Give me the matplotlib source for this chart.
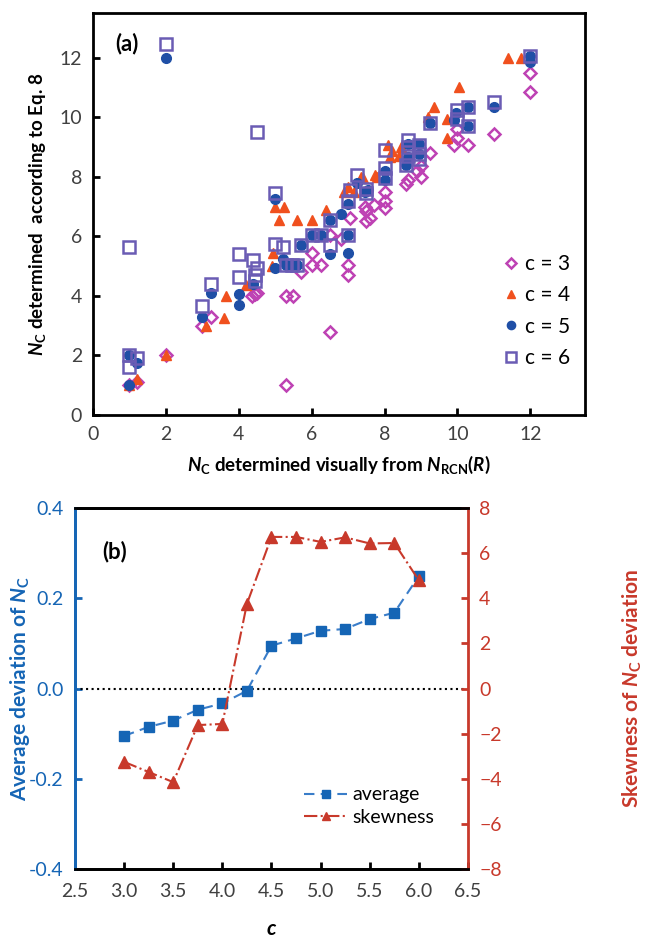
import matplotlib
matplotlib.use('Agg')
import matplotlib.pyplot as plt

plt.rcParams['font.family'] = ['Lato', 'DejaVu Sans']
plt.rcParams['mathtext.fontset'] = 'custom'
plt.rcParams['mathtext.rm'] = 'Lato:bold'
plt.rcParams['mathtext.it'] = 'Lato:bold:italic'
plt.rcParams['mathtext.bf'] = 'Lato:bold'

c3_x = [1.0, 1.2, 2.0, 3.0, 3.25, 4.35, 4.45, 4.5, 5.3, 5.5, 5.3, 6.5, 5.7, 6.0, 6.0, 6.25,
        6.5, 6.8, 7.0, 7.0, 7.05, 7.45, 7.5, 7.5, 7.6, 7.7, 8.0, 8.0, 8.0, 8.6, 8.65, 8.9,
        9.0, 9.0, 9.25, 9.9, 10.0, 10.0, 10.3, 11.0, 12.0, 12.0]
c3_y = [1.0, 1.1, 2.0, 3.0, 3.3, 4.0, 4.05, 4.1, 4.0, 4.0, 1.0, 2.8, 4.8, 5.05, 5.45, 5.05,
        6.05, 5.9, 5.05, 4.7, 6.6, 7.0, 6.85, 6.5, 6.6, 7.05, 7.5, 7.2, 6.95, 7.75, 7.9, 8.2,
        8.0, 8.35, 8.8, 9.05, 9.3, 9.6, 9.05, 9.45, 10.85, 11.5]

c4_x = [1.0, 1.2, 2.0, 3.1, 3.6, 3.65, 4.2, 4.9, 4.95, 5.0, 5.25, 5.1, 5.6, 6.0, 6.4, 6.9,
        7.15, 7.35, 7.75, 7.4, 7.0, 7.8, 8.1, 8.2, 8.15, 8.45, 8.4, 9.2, 9.35, 9.7, 9.7,
        10.05, 11.4, 11.75]
c4_y = [1.0, 1.2, 2.0, 3.0, 3.25, 4.0, 4.35, 5.0, 5.45, 7.0, 7.0, 6.55, 6.55, 6.55, 6.9, 7.5,
        7.5, 8.0, 8.05, 7.95, 7.65, 8.0, 9.05, 8.85, 8.65, 9.0, 8.7, 10.0, 10.35, 9.95, 9.3,
        11.0, 12.0, 12.0]

c5_x = [1.0, 1.0, 1.2, 2.0, 3.0, 3.25, 4.0, 4.0, 4.4, 5.0, 5.0, 5.2, 5.3, 5.45, 5.6, 5.7,
        6.0, 6.25, 6.5, 6.5, 6.8, 7.0, 7.0, 7.0, 7.25, 7.45, 7.55, 8.0, 8.0, 8.6, 8.65,
        8.65, 8.95, 8.95, 9.25, 9.9, 9.95, 10.3, 10.3, 11.0, 12.0, 12.0]
c5_y = [1.0, 2.0, 1.75, 12.0, 3.3, 4.1, 4.05, 3.7, 4.4, 4.95, 7.25, 5.25, 5.05, 5.05, 5.05, 5.7,
        6.05, 6.05, 5.4, 6.55, 6.75, 6.05, 5.45, 7.1, 7.8, 7.5, 7.55, 8.2, 7.9, 8.4, 8.65,
        9.1, 9.1, 8.75, 9.8, 9.9, 10.15, 10.35, 9.7, 10.35, 12.05, 11.85]

c6_x = [1.0, 1.0, 1.2, 1.0, 2.0, 3.0, 3.25, 4.0, 4.0, 4.4, 4.5, 4.45, 4.45, 4.5, 5.0, 5.0,
        5.2, 5.3, 5.45, 5.6, 5.7, 6.0, 6.25, 6.5, 6.5, 7.0, 7.0, 7.05, 7.25, 7.5, 7.5,
        8.0, 8.0, 8.0, 8.6, 8.65, 8.65, 8.65, 8.95, 8.95, 8.95, 9.25, 10.0, 10.0, 10.3,
        10.3, 11.0, 12.0]
c6_y = [2.0, 1.6, 1.9, 5.65, 12.45, 3.65, 4.4, 5.4, 4.65, 5.2, 4.95, 4.7, 4.5, 9.5, 7.45, 5.75,
        5.65, 5.05, 5.05, 5.05, 5.7, 6.05, 6.05, 6.55, 5.7, 6.05, 7.2, 7.55, 8.05, 7.45, 7.6,
        8.9, 8.3, 7.95, 8.4, 8.7, 9.25, 9.0, 9.05, 8.75, 8.6, 9.8, 10.25, 9.95, 10.35,
        9.7, 10.5, 12.05]

# panel (b): average deviation and skewness vs c
c_vals = [3.0, 3.25, 3.5, 3.75, 4.0, 4.25, 4.5, 4.75, 5.0, 5.25, 5.5, 5.75, 6.0]
avg_dev = [-0.105, -0.085, -0.071, -0.047, -0.033, -0.005, 0.095, 0.111, 0.128, 0.132,
           0.154, 0.168, 0.249]
skewness = [-3.25, -3.7, -4.15, -1.62, -1.57, 3.75, 6.72, 6.72, 6.5, 6.7, 6.43, 6.45, 4.8]

magenta = '#BE42B4'
orange = '#F0501E'
navy = '#1F4FA6'
violet = '#6A5CB4'
blue = '#1565B5'
red = '#C8392B'

fig = plt.figure(figsize=(6.56, 9.41), dpi=100)

ax = fig.add_axes([0.1418, 0.559, 0.75, 0.4272])
ax.plot(c3_x, c3_y, 'D', ms=6.5, mfc='none', mec=magenta, mew=1.8, ls='none', label='c = 3')
ax.plot(c4_x, c4_y, '^', ms=7.5, color=orange, mec=orange, ls='none', label='c = 4')
ax.plot(c5_x, c5_y, 'o', ms=7, color=navy, mec=navy, ls='none', label='c = 5')
ax.plot(c6_x, c6_y, 's', ms=8.5, mfc='none', mec=violet, mew=1.8, ls='none', label='c = 6')
ax.set_xlim(0, 13.5)
ax.set_ylim(0, 13.5)
ax.set_xticks(range(0, 13, 2))
ax.set_yticks(range(0, 13, 2))
ax.tick_params(direction='in', length=5, width=2, labelsize=14, labelcolor='#404040', pad=8)
for s in ax.spines.values():
    s.set_linewidth(2)
ax.set_xlabel(r'$N_{\mathrm{C}}$ determined visually from $N_{\mathrm{RCN}}(R)$',
              fontsize=13.5, fontweight='bold', labelpad=8)
ax.set_ylabel(r'$N_{\mathrm{C}}$ determined  according to Eq. 8',
              fontsize=13.5, fontweight='bold', labelpad=8)
ax.text(0.045, 0.95, '(a)', transform=ax.transAxes, fontsize=16, fontweight='bold', va='top')
ax.legend(loc='lower right', bbox_to_anchor=(1.0, 0.08), frameon=False, fontsize=15,
          handletextpad=0.1, labelspacing=0.55, handlelength=1.2, borderaxespad=0.3,
          markerscale=0.85)

ax2 = fig.add_axes([0.1143, 0.0765, 0.599, 0.3836])
ax3 = ax2.twinx()
ax2.axhline(0, color='black', ls=':', lw=1.5)
l1, = ax2.plot(c_vals, avg_dev, '--s', color='#3A7DC9', mfc=blue, mec=blue, ms=7.5, lw=1.5,
               dashes=(5, 3), label='average')
l2, = ax3.plot(c_vals, skewness, '-.^', color=red, mfc=red, mec=red, ms=8, lw=1.5,
               label='skewness')
ax2.set_xlim(2.5, 6.5)
ax2.set_ylim(-0.4, 0.4)
ax3.set_ylim(-8, 8)
ax2.set_xticks([2.5, 3.0, 3.5, 4.0, 4.5, 5.0, 5.5, 6.0, 6.5])
ax2.set_xticklabels(['2.5', '3.0', '3.5', '4.0', '4.5', '5.0', '5.5', '6.0', '6.5'])
ax2.set_yticks([-0.4, -0.2, 0.0, 0.2, 0.4])
ax2.set_yticklabels(['-0.4', '-0.2', '0.0', '0.2', '0.4'])
ax3.set_yticks(range(-8, 9, 2))
ax2.tick_params(axis='x', direction='in', length=5, width=2, labelsize=14,
                labelcolor='#404040', pad=10)
ax2.tick_params(axis='y', direction='in', length=5, width=2, labelsize=14, color=blue,
                labelcolor=blue, pad=8)
ax3.tick_params(axis='y', direction='in', length=5, width=2, labelsize=14, color=red,
                labelcolor=red, pad=8)
for s in ax2.spines.values():
    s.set_linewidth(2)
for s in ax3.spines.values():
    s.set_linewidth(2)
ax3.spines['left'].set_color(blue)
ax3.spines['right'].set_color(red)
ax2.spines['left'].set_color(blue)
ax2.spines['right'].set_visible(False)
ax2.set_xlabel(r'$c$', fontsize=15, labelpad=14)
ax2.set_ylabel(r'Average deviation of $N_{\mathrm{C}}$', fontsize=15, fontweight='bold',
               color=blue)
ax2.yaxis.set_label_coords(-0.11, 0.5)
ax3.set_ylabel(r'Skewness of $N_{\mathrm{C}}$ deviation', fontsize=15, fontweight='bold',
               color=red)
ax3.yaxis.set_label_coords(1.39, 0.5)
ax2.text(0.07, 0.91, '(b)', transform=ax2.transAxes, fontsize=16, fontweight='bold', va='top')
ax2.legend([l1, l2], ['average', 'skewness'], loc='lower right', bbox_to_anchor=(0.96, 0.07),
           frameon=False, fontsize=14, handlelength=2.2, handletextpad=0.3, labelspacing=0.3,
           markerscale=0.8)

fig.savefig('out.png', dpi=100)
